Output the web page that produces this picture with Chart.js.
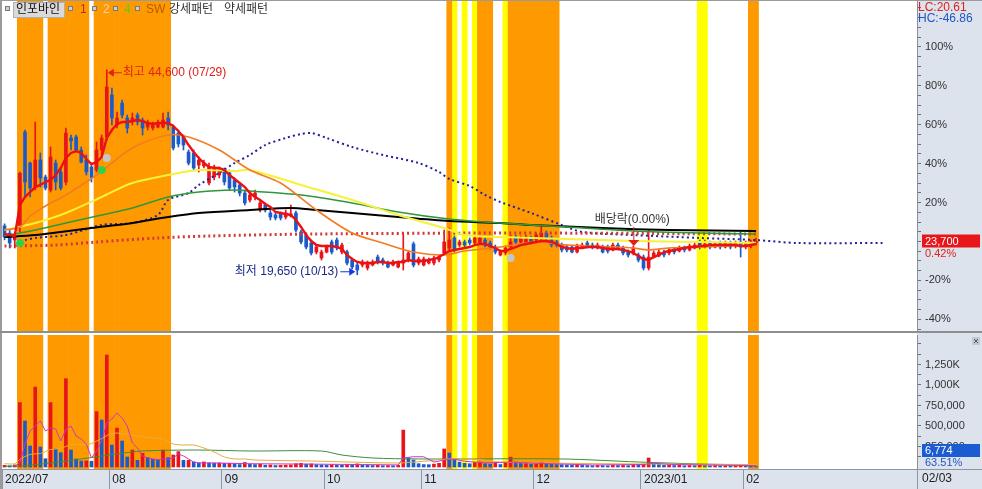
<!DOCTYPE html>
<html>
<head>
<meta charset="utf-8">
<script src="https://cdn.jsdelivr.net/npm/chart.js@4.4.0/dist/chart.umd.min.js"></script>
<style>
  html, body { margin: 0; padding: 0; background: #fff; }
  #wrap { position: relative; width: 982px; height: 489px; overflow: hidden; }
  #wrap canvas { position: absolute; left: 0; }
  #priceCanvas { top: 0; }
  #volCanvas { top: 333px; }
</style>
</head>
<body>
<div id="wrap">
  <canvas id="priceCanvas" width="982" height="333"></canvas>
  <canvas id="volCanvas" width="982" height="156"></canvas>
</div>
<script>
// trading day index: 0 = 2022/07/01 ... 147 = 2023/02/03, then empty slots on the right
const TOTAL_SLOTS = 179;
const monthStartDays = [0, 21, 43, 63, 82, 104, 125, 145];
const monthLabels = ['2022/07', '08', '09', '10', '11', '12', '2023/01', '02'];
const lastDateLabel = '02/03';

// daily candles (KRW)
const openPrices = [
  25600, 24730, 23880, 25450, 37020, 33250, 30330, 33620, 31550, 29970,
  33250, 32160, 30940, 36300, 36420, 34840, 33620, 32770, 32400, 34840,
  36420, 41530, 37880, 40550, 38730, 38240, 39090, 38480, 37630, 37510,
  37630, 37630, 38730, 37630, 36900, 36420, 34590, 34470, 33010, 32890,
  30820, 31550, 31790, 32400, 32040, 31180, 30580, 29600, 28750, 29120,
  27530, 28140, 27170, 26930, 27170, 26680, 26800, 27170, 24860, 24490,
  23520, 22420, 21690, 22420, 23640, 23880, 22420, 22420, 21450, 20840,
  20840, 20480, 20840, 21810, 21450, 21080, 20840, 20600, 21080, 21450,
  23400, 21080, 20840, 21080, 21080, 21450, 22300, 22910, 24130, 23270,
  23640, 23880, 23520, 23520, 23880, 23520, 23030, 22060, 22300, 23030,
  24250, 23640, 23520, 24130, 23880, 24130, 24730, 24130, 23640, 23270,
  23030, 23030, 22420, 23030, 23520, 23270, 22910, 23030, 23030, 22670,
  23270, 22910, 22420, 22300, 22060, 21810, 20480, 21810, 21940, 22300,
  22300, 22670, 22540, 22910, 22670, 22910, 23640, 23030, 23520, 23030,
  23520, 23030, 23520, 23150, 23640, 23030, 23150, 23520
];
const highPrices = [
  25850, 25100, 24860, 32150, 37270, 33370, 38240, 34470, 31790, 35200,
  33620, 32770, 37510, 36660, 36660, 35200, 34230, 33250, 35810, 36660,
  44600, 42380, 39460, 40920, 39090, 39340, 39340, 38730, 38480, 38240,
  38480, 39340, 39460, 37880, 37270, 36660, 34840, 34840, 33980, 33620,
  33250, 33010, 32770, 32650, 32400, 31430, 30820, 29970, 29720, 29970,
  28750, 28390, 27530, 27170, 27290, 27530, 28140, 27410, 25100, 24730,
  23880, 23270, 22670, 23270, 23880, 24130, 23520, 22670, 21690, 21210,
  21450, 21330, 21450, 22060, 21690, 21330, 21450, 21330, 24730, 22540,
  23640, 21810, 21810, 21690, 21940, 22060, 25100, 25340, 24370, 23880,
  23880, 24130, 24370, 24370, 24130, 23760, 23270, 22670, 23150, 24490,
  24490, 24370, 24490, 24370, 24730, 25710, 24980, 24370, 23880, 23520,
  23270, 23270, 23400, 23520, 23760, 23520, 23520, 23270, 23270, 23520,
  23520, 23150, 22670, 23150, 22300, 22060, 25100, 22540, 22670, 22670,
  22910, 22910, 23150, 23150, 23400, 23520, 23880, 23880, 23760, 23640,
  23760, 23760, 23760, 23760, 24860, 23760, 23880, 24130
];
const lowPrices = [
  23900, 22910, 22910, 24900, 29120, 29120, 29970, 30330, 29970, 29720,
  29970, 29970, 30580, 34840, 34590, 33250, 31790, 30940, 32160, 34230,
  36050, 37880, 37510, 38730, 36900, 37880, 37880, 36660, 37270, 37270,
  37510, 37510, 37270, 34840, 35200, 34840, 33010, 32400, 32160, 32650,
  30580, 31180, 31430, 30580, 29970, 29720, 29240, 28140, 28510, 28750,
  27290, 27290, 26320, 26320, 26320, 26440, 26680, 24860, 23400, 22790,
  22060, 22180, 21450, 22300, 22180, 22670, 22180, 20840, 20350, 19650,
  20600, 20230, 20720, 20960, 20840, 20480, 20720, 20480, 20230, 21210,
  20600, 20840, 20720, 20960, 20840, 21210, 22060, 22670, 22420, 23030,
  23030, 23270, 23270, 23400, 23030, 22790, 22180, 21940, 22060, 22790,
  23400, 23400, 23270, 23400, 23640, 23880, 23880, 23030, 23030, 22420,
  22420, 22300, 22300, 22910, 22910, 22790, 22790, 22300, 22300, 22540,
  22670, 22060, 21810, 22060, 21210, 20230, 20230, 21690, 21810, 21810,
  22060, 22180, 22420, 22420, 22540, 22790, 22790, 22910, 22790, 22910,
  22790, 22910, 22790, 22910, 21810, 22790, 22910, 23270
];
const closePrices = [
  24250, 23520, 24370, 32000, 30940, 30210, 33620, 31430, 30210, 33980,
  30940, 30210, 36900, 35950, 34840, 33370, 32160, 31430, 34840, 36300,
  42500, 38730, 38730, 39090, 37510, 38730, 38240, 37510, 38120, 37880,
  38120, 38480, 37880, 35080, 35570, 35440, 33250, 32650, 33620, 33250,
  32770, 32770, 32400, 30940, 30210, 30330, 29600, 28390, 29360, 29600,
  28390, 27530, 26680, 26560, 26560, 27170, 27050, 25100, 23640, 23030,
  22300, 23030, 22420, 23030, 22420, 22910, 23270, 21080, 20600, 20230,
  21210, 21080, 21210, 21210, 21080, 20600, 21210, 21080, 21450, 22300,
  20840, 21570, 21570, 21450, 21690, 21810, 23640, 23880, 22670, 23640,
  23270, 23520, 24130, 24130, 23270, 23030, 22420, 22420, 22910, 23640,
  23640, 24130, 24250, 23640, 24490, 24730, 24130, 23270, 23270, 22670,
  22670, 22420, 23270, 23270, 23030, 23030, 23270, 22420, 22540, 23270,
  22910, 22300, 22060, 22910, 21450, 20480, 21810, 22300, 22420, 22060,
  22670, 22420, 22910, 22670, 23150, 23270, 23030, 23400, 23030, 23400,
  23030, 23520, 23030, 23520, 23030, 23520, 23600, 23700
];
const volumes = [
  20000, 15000, 25000, 785000, 561000, 256000, 975000, 244000, 101000, 785000,
  220000, 174000, 1077000, 207000, 98000, 73000, 75000, 70000, 675000, 573000,
  1366000, 268000, 475000, 317000, 122000, 207000, 81000, 167000, 114000, 94000,
  81000, 207000, 114000, 146000, 187000, 81000, 81000, 62000, 50000, 62000,
  50000, 48000, 50000, 45000, 46000, 38000, 30000, 55000, 35000, 30000,
  35000, 22000, 25000, 18000, 20000, 22000, 25000, 40000, 45000, 35000,
  38000, 28000, 25000, 22000, 28000, 24000, 22000, 32000, 30000, 38000,
  22000, 20000, 18000, 22000, 16000, 18000, 15000, 20000, 450000, 110000,
  85000, 40000, 30000, 28000, 35000, 45000, 220000, 170000, 90000, 60000,
  45000, 40000, 55000, 60000, 40000, 35000, 45000, 30000, 50000, 120000,
  60000, 45000, 50000, 35000, 40000, 55000, 40000, 35000, 30000, 28000,
  25000, 22000, 28000, 20000, 18000, 16000, 20000, 18000, 15000, 22000,
  18000, 20000, 16000, 30000, 25000, 35000, 110000, 40000, 30000, 20000,
  25000, 18000, 20000, 15000, 18000, 16000, 20000, 15000, 14000, 18000,
  12000, 15000, 12000, 14000, 30000, 15000, 12000, 6774
];

// price lines
const ma5Line = [
  24610, 24490, 24370, 28140, 29120, 29720, 30330, 30580, 30940, 31180,
  31790, 32650, 33860, 34470, 34710, 34470, 33740, 33130, 33370, 33980,
  36300, 37270, 38000, 38240, 38240, 38360, 38480, 38360, 38120, 38000,
  38120, 38120, 38120, 37750, 37150, 36420, 35440, 34590, 33860, 33250,
  32770, 32650, 32650, 32400, 31790, 31310, 30820, 30330, 29600, 29120,
  28750, 28260, 27900, 27290, 27170, 27050, 26930, 26320, 25470, 24490,
  23760, 23270, 23150, 23150, 23150, 23030, 22790, 22060, 21570, 21210,
  21080, 21080, 21080, 21210, 21210, 21080, 21080, 21210, 21210, 21450,
  21330, 21330, 21330, 21450, 21570, 21810, 22180, 22540, 22670, 22790,
  22910, 23030, 23270, 23400, 23400, 23150, 22910, 22540, 22540, 22790,
  23030, 23270, 23400, 23520, 23640, 23760, 23760, 23640, 23400, 23030,
  22910, 22790, 22910, 22910, 23030, 23030, 23030, 22910, 22790, 22790,
  22790, 22670, 22540, 22300, 21940, 21570, 21450, 21810, 22060, 22420,
  22540, 22670, 22790, 22910, 23030, 23030, 23150, 23150, 23270, 23270,
  23270, 23270, 23270, 23270, 23150, 23150, 23270, 23400
];
const orangeLine = [[0, 25100], [3, 25460], [5, 26800], [8, 28020], [12, 29360], [18, 31790], [25, 35080], [32, 36660], [36, 36420], [42, 34840], [48, 32400], [54, 30820], [61, 27530], [68, 24730], [74, 23520], [80, 22420], [86, 22060], [90, 22540], [97, 23030], [104, 23640], [110, 23270], [120, 23030], [123, 22910], [126, 22670], [130, 22910], [136, 23030], [147, 23270]];
const yellowLine = [[0, 25100], [6, 25950], [12, 27170], [19, 29120], [25, 30820], [32, 31790], [38, 32400], [45, 32280], [48, 32400], [58, 30580], [68, 28750], [77, 26930], [86, 25340], [90, 24490], [97, 24250], [110, 24000], [123, 23760], [136, 23640], [147, 23520]];
const greenLine = [[0, 24370], [6, 25100], [12, 25950], [19, 26930], [25, 27780], [32, 29120], [38, 29720], [45, 29970], [48, 29850], [58, 29360], [68, 28390], [77, 27290], [87, 26440], [97, 25950], [110, 25460], [123, 24980], [136, 24730], [147, 24610]];
const blackLine = [[0, 24250], [6, 24490], [11, 24860], [17, 25340], [25, 25950], [32, 26680], [38, 27170], [48, 27530], [56, 27780], [61, 27530], [68, 27170], [77, 26680], [87, 26200], [97, 25950], [103, 25710], [117, 25340], [130, 25100], [147, 24980]];
const blueDotLine = [[4, 23880], [6, 24130], [12, 24490], [19, 25710], [25, 25950], [30, 26930], [32, 28750], [36, 29600], [38, 30580], [42, 32040], [45, 33250], [48, 34230], [51, 35440], [55, 36300], [58, 36780], [60, 36900], [63, 36300], [68, 35200], [74, 34230], [81, 33250], [85, 32160], [87, 31310], [91, 30450], [94, 29360], [97, 28510], [103, 27170], [109, 25710], [113, 24860], [123, 24490], [136, 24130], [147, 23880], [155, 23520], [172, 23520]];
const redDotLine = [[0, 23150], [10, 23270], [18, 23640], [30, 24130], [40, 24370], [60, 24610], [100, 24730], [147, 24610]];

// volume average lines
const volLine5 = [[2, 10000], [3, 49000], [4, 280000], [5, 439000], [6, 500000], [7, 561000], [8, 439000], [9, 476000], [10, 463000], [11, 317000], [12, 463000], [13, 500000], [14, 378000], [15, 341000], [16, 280000], [17, 110000], [18, 195000], [19, 317000], [20, 537000], [21, 585000], [22, 659000], [23, 598000], [24, 500000], [25, 293000], [26, 232000], [27, 134000], [28, 110000], [29, 98000], [30, 90000], [31, 98000], [32, 98000], [33, 110000], [34, 159000], [35, 134000], [36, 98000], [37, 60000], [38, 50000], [42, 48000], [48, 40000], [60, 35000], [70, 30000], [77, 25000], [78, 110000], [80, 125000], [82, 125000], [84, 60000], [86, 85000], [88, 95000], [90, 70000], [94, 50000], [99, 60000], [104, 45000], [115, 25000], [125, 30000], [127, 45000], [131, 30000], [147, 15000]];
const volLine20 = [[0, 40000], [2, 40000], [3, 94000], [5, 153000], [7, 165000], [9, 214000], [11, 226000], [13, 274000], [15, 274000], [17, 287000], [19, 348000], [21, 409000], [23, 409000], [25, 390000], [27, 366000], [29, 354000], [31, 341000], [33, 280000], [35, 268000], [37, 268000], [39, 232000], [41, 183000], [43, 122000], [45, 98000], [47, 98000], [49, 85000], [60, 73000], [68, 60000], [77, 49000], [82, 70000], [87, 98000], [92, 98000], [97, 60000], [110, 45000], [125, 37000], [147, 30000]];
const volLine60 = [[0, 10000], [3, 12000], [9, 49000], [15, 98000], [22, 159000], [27, 195000], [38, 207000], [48, 195000], [62, 195000], [66, 146000], [72, 110000], [81, 98000], [109, 98000], [124, 61000], [136, 37000], [147, 24000]];

// pattern bands
const strongDays = [3, 4, 5, 6, 7, 9, 10, 11, 12, 13, 14, 15, 16, 18, 19, 20, 21, 22, 23, 24, 25, 26, 27, 28, 29, 30, 31, 32, 87, 93, 94, 95, 99, 100, 101, 102, 103, 104, 105, 106, 107, 108, 146, 147];
const weakDays = [88, 90, 92, 98, 136, 137];

// signal marks
const greenSignals = [[3, 23520], [19, 32400]];
const graySignals = [[20, 33860], [99, 21690]];
const exDividendDay = 123;
const highDateLabel = '07/29';
const lowDateLabel = '10/13';

const BASE_PRICE = 23700;
const percentTicks = [-40, -20, 20, 40, 60, 80, 100];
const volTickValues = [250000, 500000, 750000, 1000000, 1250000];
const volTickLabels = ['250,000', '500,000', '750,000', '1,000K', '1,250K'];

const legendLabels = ['인포바인', '1', '2', '4', 'SW', '강세패턴', '약세패턴'];

// ---------------------------------------------------------------
const UP = '#e8141b';
const DOWN = '#1b5ac8';
const ORANGE_BAND = '#fe9a00';
const YELLOW_BAND = '#ffff00';
const PANEL_BG = '#dce3ed';
const FONT = "'Liberation Sans', 'Noto Sans CJK KR', sans-serif";
const PRICE_MAX = 52969, PRICE_MIN = 12808;
const VOL_MAX = 1609740, VOL_MIN = -24390;

Chart.defaults.font.family = FONT;
Chart.defaults.font.size = 11;

const days = closePrices.map((_, i) => i);
const toXY = arr => arr.map(([x, y]) => ({ x, y }));
const fmt = n => n.toLocaleString('en-US');

const bandSets = () => [
  { type: 'bar', data: strongDays.map(d => ({ x: d, y: [0, 1] })), yAxisID: 'yb', backgroundColor: ORANGE_BAND, barPercentage: 1, categoryPercentage: 1, grouped: false, order: 20 },
  { type: 'bar', data: weakDays.map(d => ({ x: d, y: [0, 1] })), yAxisID: 'yb', backgroundColor: YELLOW_BAND, barPercentage: 1, categoryPercentage: 1, grouped: false, order: 20 }
];

const xBase = { type: 'linear', min: -0.5, max: TOTAL_SLOTS - 0.5, offset: false, grid: { offset: false } };

function rightAxis(extra) {
  return Object.assign({
    position: 'right',
    afterFit: a => { a.width = 65; a.paddingTop = 0; a.paddingBottom = 0; },
    grid: { drawOnChartArea: false, drawTicks: true, tickLength: 4, color: '#6f6f6f' },
    border: { display: true, color: '#8a8f99' }
  }, extra);
}

// ------------------ price panel ------------------
const priceDecor = {
  id: 'priceDecor',
  beforeDraw(chart) {
    const ctx = chart.ctx, a = chart.chartArea;
    ctx.save();
    ctx.fillStyle = '#fff';
    ctx.fillRect(0, 0, chart.width, chart.height);
    ctx.fillStyle = PANEL_BG;
    ctx.fillRect(a.right, 0, chart.width - a.right, chart.height);
    ctx.restore();
  },
  afterDraw(chart) {
    const ctx = chart.ctx, a = chart.chartArea;
    const xs = chart.scales.x, ys = chart.scales.y;
    ctx.save();
    // frame
    ctx.fillStyle = '#9b9b9b';
    ctx.fillRect(0, 0, chart.width, 1);
    ctx.fillRect(0, 0, 2, chart.height);
    ctx.fillStyle = '#8e8e8e';
    ctx.fillRect(0, a.bottom, chart.width, 2);

    // legend
    ctx.textBaseline = 'middle';
    ctx.font = '12px ' + FONT;
    const icon = x => {
      ctx.fillStyle = '#cfcfcf'; ctx.fillRect(x, 6, 5, 5);
      ctx.strokeStyle = '#7a7a7a'; ctx.lineWidth = 1; ctx.strokeRect(x + 0.5, 6.5, 4, 4);
    };
    icon(5);
    ctx.fillStyle = '#dadada'; ctx.fillRect(13, 2, 52, 16);
    ctx.strokeStyle = '#b0b0b0'; ctx.strokeRect(13.5, 2.5, 51, 15);
    ctx.fillStyle = '#111'; ctx.fillText(legendLabels[0], 16, 10);
    const legendX = [80, 103, 124, 146, 169, 224];
    const legendColors = ['#b8341c', '#f2cfbd', '#5ccd1e', '#b55b00', '#333', '#333'];
    [68, 92, 113, 135].forEach(icon);
    for (let i = 1; i < legendLabels.length; i++) {
      ctx.fillStyle = legendColors[i - 1];
      ctx.fillText(legendLabels[i], legendX[i - 1], 10);
    }

    // LC / HC
    const last = closePrices[closePrices.length - 1];
    const hi = Math.max(...highPrices), lo = Math.min(...lowPrices);
    ctx.fillStyle = '#e0201a';
    ctx.fillText('LC:' + ((last - lo) / lo * 100).toFixed(2), a.right + 1, 8);
    ctx.fillStyle = '#2455c4';
    ctx.fillText('HC:' + ((last - hi) / hi * 100).toFixed(2), a.right + 1, 19);

    // highest / lowest notes
    const hiDay = highPrices.indexOf(hi), loDay = lowPrices.indexOf(lo);
    let px = xs.getPixelForValue(hiDay) + 1, py = ys.getPixelForValue(hi) + 3;
    ctx.strokeStyle = '#e0201a'; ctx.fillStyle = '#e0201a'; ctx.lineWidth = 1;
    ctx.beginPath(); ctx.moveTo(px + 4, py); ctx.lineTo(px + 14, py); ctx.stroke();
    ctx.beginPath(); ctx.moveTo(px, py); ctx.lineTo(px + 6, py - 4); ctx.lineTo(px + 6, py + 4); ctx.closePath(); ctx.fill();
    ctx.font = '12px ' + FONT;
    ctx.fillText('최고 ' + fmt(hi) + ' (' + highDateLabel + ')', px + 15, py);

    px = xs.getPixelForValue(loDay) - 2; py = ys.getPixelForValue(lo) - 3;
    ctx.strokeStyle = '#1238e0'; ctx.fillStyle = '#1238e0';
    ctx.beginPath(); ctx.moveTo(px - 15, py); ctx.lineTo(px - 4, py); ctx.stroke();
    ctx.beginPath(); ctx.moveTo(px, py); ctx.lineTo(px - 6, py - 4); ctx.lineTo(px - 6, py + 4); ctx.closePath(); ctx.fill();
    ctx.fillStyle = '#1c2a86'; ctx.textAlign = 'right';
    ctx.fillText('최저 ' + fmt(lo) + ' (' + lowDateLabel + ')', px - 17, py);

    // ex-dividend mark
    const dx = xs.getPixelForValue(exDividendDay), dy = ys.getPixelForValue(highPrices[exDividendDay]);
    ctx.strokeStyle = '#e0201a'; ctx.fillStyle = '#e0201a';
    ctx.beginPath(); ctx.moveTo(dx + 0.5, dy - 19); ctx.lineTo(dx + 0.5, dy - 5); ctx.stroke();
    ctx.beginPath(); ctx.moveTo(dx - 5, dy - 6); ctx.lineTo(dx + 6, dy - 6); ctx.lineTo(dx + 0.5, dy); ctx.closePath(); ctx.fill();
    ctx.textAlign = 'center'; ctx.fillStyle = '#333';
    ctx.fillText('배당락(0.00%)', dx - 1, dy - 26);

    // last price box
    const prev = closePrices[closePrices.length - 2];
    const ly = ys.getPixelForValue(last);
    ctx.textAlign = 'left';
    ctx.fillStyle = '#e8161b';
    ctx.fillRect(a.right + 5, ly - 7, 58, 13);
    ctx.font = '11px ' + FONT;
    ctx.fillStyle = '#fff';
    ctx.fillText(fmt(last), a.right + 8, ly);
    ctx.fillStyle = '#e0201a';
    ctx.fillText(((last - prev) / prev * 100).toFixed(2) + '%', a.right + 8, ly + 12);
    ctx.restore();
  }
};

new Chart(document.getElementById('priceCanvas'), {
  type: 'bar',
  data: {
    datasets: [
      ...bandSets(),
      { type: 'bar', yAxisID: 'y', data: days.map(i => ({ x: i, y: [lowPrices[i], highPrices[i]] })), backgroundColor: days.map(i => closePrices[i] >= openPrices[i] ? UP : DOWN), barThickness: 1, grouped: false, order: 12 },
      { type: 'bar', yAxisID: 'y', data: days.map(i => ({ x: i, y: [openPrices[i], closePrices[i]] })), backgroundColor: days.map(i => closePrices[i] >= openPrices[i] ? UP : DOWN), barThickness: 3, minBarLength: 1, grouped: false, order: 11 },
      { type: 'line', yAxisID: 'y', data: toXY(redDotLine), borderColor: '#d43838', borderWidth: 3, borderDash: [2, 3.1], pointRadius: 0, tension: 0.3, order: 9 },
      { type: 'line', yAxisID: 'y', data: toXY(blueDotLine), borderColor: '#22229a', borderWidth: 2, borderDash: [2, 3.1], pointRadius: 0, tension: 0.3, order: 9 },
      { type: 'line', yAxisID: 'y', data: toXY(blackLine), borderColor: '#000', borderWidth: 2, pointRadius: 0, tension: 0.3, order: 6 },
      { type: 'line', yAxisID: 'y', data: toXY(greenLine), borderColor: '#2e983a', borderWidth: 1.6, pointRadius: 0, tension: 0.3, order: 5 },
      { type: 'line', yAxisID: 'y', data: toXY(yellowLine), borderColor: '#f6f23a', borderWidth: 2, pointRadius: 0, tension: 0.3, order: 4 },
      { type: 'line', yAxisID: 'y', data: toXY(orangeLine), borderColor: '#f27c22', borderWidth: 1.6, pointRadius: 0, tension: 0.3, order: 3 },
      { type: 'line', yAxisID: 'y', data: ma5Line.map((v, i) => ({ x: i, y: v })), borderColor: '#ec1010', borderWidth: 2.4, pointRadius: 0, tension: 0, order: 2 },
      { type: 'line', yAxisID: 'y', data: toXY(greenSignals), showLine: false, pointStyle: 'star', pointRadius: 4, borderWidth: 2.5, borderColor: '#2ad14a', backgroundColor: '#2ad14a', order: 1 },
      { type: 'line', yAxisID: 'y', data: toXY(graySignals), showLine: false, pointStyle: 'circle', pointRadius: 4, borderWidth: 0, backgroundColor: '#c6c6c6', order: 1 }
    ]
  },
  options: {
    responsive: false, animation: false, devicePixelRatio: 1, events: [],
    layout: { autoPadding: false, padding: { left: 2, top: 1, right: 0, bottom: 2 } },
    plugins: { legend: { display: false }, tooltip: { enabled: false } },
    scales: {
      x: Object.assign({}, xBase, { display: false }),
      y: rightAxis({
        min: PRICE_MIN, max: PRICE_MAX,
        afterBuildTicks: a => {
          const t = [];
          for (let p = -45; p <= 120; p += 5) t.push({ value: BASE_PRICE * (1 + p / 100) });
          a.ticks = t;
        },
        ticks: {
          padding: 4, color: '#333', font: { size: 11 }, autoSkip: false,
          callback: v => {
            const p = Math.round((v / BASE_PRICE - 1) * 100);
            return percentTicks.includes(p) ? p + '%' : '';
          }
        }
      }),
      yb: { display: false, min: 0, max: 1 }
    }
  },
  plugins: [priceDecor]
});

// ------------------ volume panel ------------------
const volDecor = {
  id: 'volDecor',
  beforeDraw(chart) {
    const ctx = chart.ctx, a = chart.chartArea;
    ctx.save();
    ctx.fillStyle = '#fff';
    ctx.fillRect(0, 0, chart.width, chart.height);
    ctx.fillStyle = PANEL_BG;
    ctx.fillRect(a.right, 0, chart.width - a.right, chart.height);
    ctx.fillRect(0, a.bottom, chart.width, chart.height - a.bottom);
    ctx.restore();
  },
  afterDraw(chart) {
    const ctx = chart.ctx, a = chart.chartArea;
    ctx.save();
    ctx.fillStyle = '#9b9b9b';
    ctx.fillRect(0, 0, 2, chart.height);
    ctx.fillStyle = '#8e96a4';
    ctx.fillRect(0, a.bottom, chart.width, 1);
    ctx.fillRect(a.right, a.bottom, 1, chart.height - a.bottom);
    ctx.font = '12px ' + FONT;
    ctx.fillStyle = '#222';
    ctx.textBaseline = 'middle';
    ctx.fillText(lastDateLabel, a.right + 5, a.bottom + 10);

    // close icon
    ctx.fillStyle = '#c3c9d3';
    ctx.fillRect(972, 4, 8, 8);
    ctx.strokeStyle = '#555'; ctx.lineWidth = 1;
    ctx.beginPath(); ctx.moveTo(974, 6); ctx.lineTo(978, 10); ctx.moveTo(978, 6); ctx.lineTo(974, 10); ctx.stroke();

    // last volume box (kept inside the panel)
    const lastVol = volumes[volumes.length - 1];
    const vy = Math.min(chart.scales.y.getPixelForValue(lastVol), a.bottom - 19);
    ctx.fillStyle = '#1c5cd2';
    ctx.fillRect(a.right + 5, vy - 6, 58, 13);
    ctx.font = '11px ' + FONT;
    ctx.fillStyle = '#fff';
    ctx.fillText(fmt(lastVol), a.right + 8, vy + 0.5);
    ctx.fillStyle = '#2455c4';
    ctx.fillText('63.51%', a.right + 8, vy + 12.5);
    ctx.restore();
  }
};

new Chart(document.getElementById('volCanvas'), {
  type: 'bar',
  data: {
    datasets: [
      ...bandSets(),
      { type: 'bar', yAxisID: 'y', data: days.map(i => ({ x: i, y: volumes[i] })), backgroundColor: days.map(i => (i === 0 || volumes[i] >= volumes[i - 1]) ? UP : DOWN), barThickness: 3, grouped: false, order: 10 },
      { type: 'line', yAxisID: 'y', data: toXY(volLine60), borderColor: '#3a8f42', borderWidth: 1, pointRadius: 0, tension: 0.3, order: 4 },
      { type: 'line', yAxisID: 'y', data: toXY(volLine20), borderColor: '#e5ad3c', borderWidth: 1, pointRadius: 0, tension: 0.3, order: 3 },
      { type: 'line', yAxisID: 'y', data: toXY(volLine5), borderColor: '#c935c9', borderWidth: 1, pointRadius: 0, tension: 0, order: 2 }
    ]
  },
  options: {
    responsive: false, animation: false, devicePixelRatio: 1, events: [],
    layout: { autoPadding: false, padding: { left: 2, top: 2, right: 0, bottom: 0 } },
    plugins: { legend: { display: false }, tooltip: { enabled: false } },
    scales: {
      x: Object.assign({}, xBase, {
        position: 'bottom',
        afterBuildTicks: a => { a.ticks = monthStartDays.map(d => ({ value: d - 0.5 })); },
        afterFit: a => { a.height = 20; a.paddingLeft = 0; a.paddingRight = 0; },
        grid: { offset: false, drawOnChartArea: false, drawTicks: true, tickLength: 20, color: '#8e96a4' },
        border: { display: false },
        ticks: { callback: (v, i) => monthLabels[i], align: 'start', labelOffset: 3, padding: -17, color: '#222', font: { size: 12 }, autoSkip: false, maxRotation: 0 }
      }),
      y: rightAxis({
        min: VOL_MIN, max: VOL_MAX,
        afterBuildTicks: a => {
          const t = [];
          for (let v = 125000; v <= 1500000; v += 125000) t.push({ value: v });
          a.ticks = t;
        },
        ticks: {
          padding: 4, color: '#333', font: { size: 11 }, autoSkip: false,
          callback: v => { const k = volTickValues.indexOf(v); return k >= 0 ? volTickLabels[k] : ''; }
        }
      }),
      yb: { display: false, min: 0, max: 1 }
    }
  },
  plugins: [volDecor]
});
</script>
</body>
</html>
